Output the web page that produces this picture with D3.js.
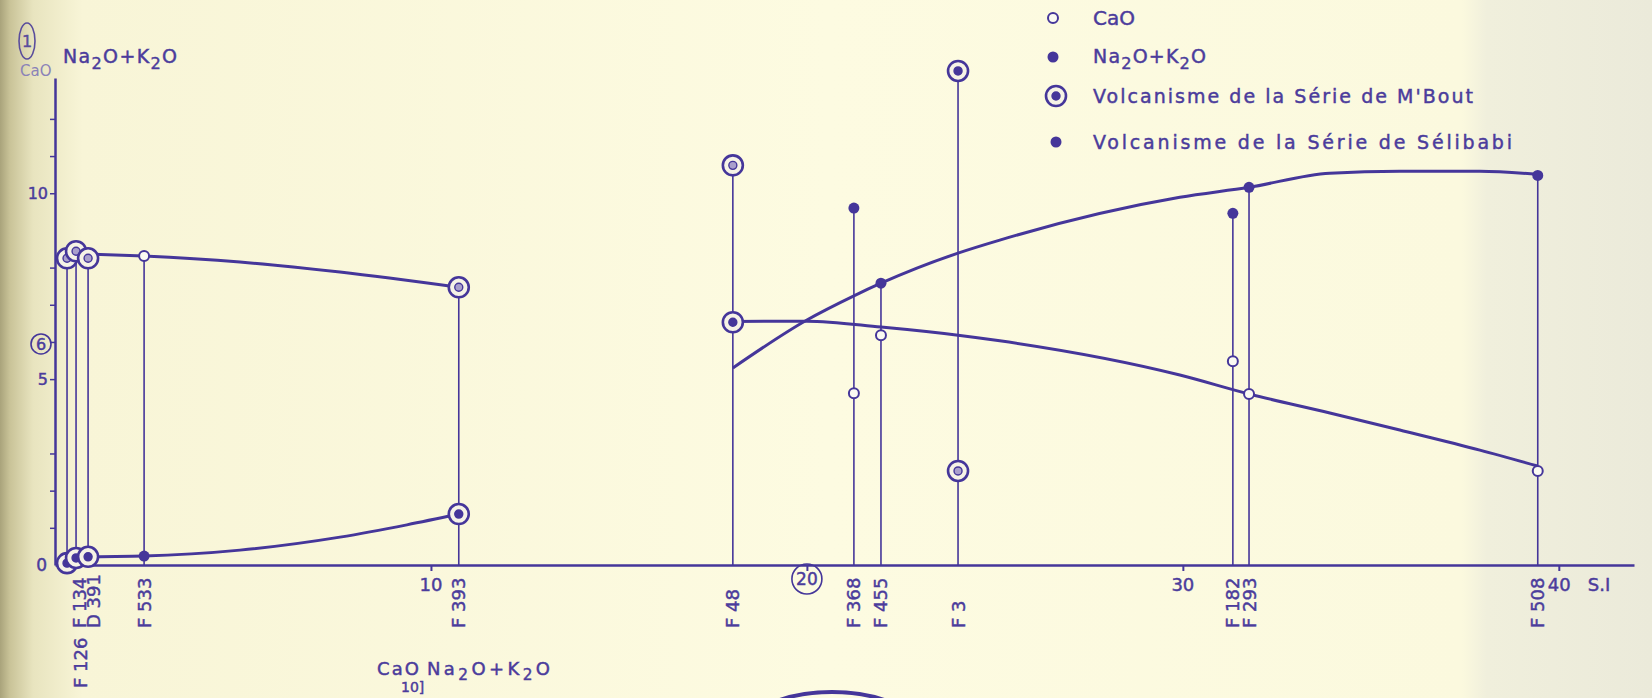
<!DOCTYPE html>
<html>
<head>
<meta charset="utf-8">
<script src="https://cdn.jsdelivr.net/npm/d3@7"></script>
<style>
  body { margin: 0; background: #fbf9dc; }
  svg { display: block; }
  text { font-family: "DejaVu Sans", sans-serif; fill: #4b3c9c; stroke: #4b3c9c; stroke-width: 0.45px; }
  .axis path, .axis line { stroke: #45369a; }
</style>
</head>
<body>
<script>
// chart parameters
var svgWidth = 1652;
var svgHeight = 698;
var margin = {top: 78, right: 18, bottom: 133, left: 55};
var width = svgWidth - margin.left - margin.right;
var height = svgHeight - margin.top - margin.bottom;
var ink = "#45369a";

// data
var samples = ["F134", "F126", "D391", "F533", "F393", "F48", "F368", "F455", "F3", "F182", "F293", "F508"];
var siIndex = [0.32, 0.56, 0.88, 2.37, 10.74, 18.03, 21.25, 21.97, 24.02, 31.33, 31.76, 39.44];
var caoValues = [8.25, 8.44, 8.25, 8.31, 7.47, 10.75, 4.62, 6.18, 2.53, 5.48, 4.60, 2.53];
var alkValues = [0.05, 0.19, 0.22, 0.24, 1.37, 6.53, 9.60, 7.58, 13.29, 9.46, 10.16, 10.48];
var series = ["M'Bout", "M'Bout", "M'Bout", "Sélibabi", "M'Bout", "M'Bout", "Sélibabi", "Sélibabi", "M'Bout", "Sélibabi", "Sélibabi", "Sélibabi"];

// trend curves drawn by hand on the original ([S.I, %])
var caoLeftCurve = [[1.06, 8.36], [2.37, 8.31], [4.92, 8.15], [7.58, 7.88], [10.74, 7.47]];
var alkLeftCurve = [[0.32, 0.05], [0.88, 0.22], [2.37, 0.24], [4.92, 0.40], [7.58, 0.75], [9.36, 1.08], [10.74, 1.37]];
var caoRightCurve = [[18.03, 6.55], [20.0, 6.56], [21.97, 6.40], [24.02, 6.18], [25.13, 6.03], [29.92, 5.11], [31.76, 4.60], [33.91, 4.09], [35.77, 3.63], [37.9, 3.09], [39.44, 2.66]];
var alkRightCurve = [[18.03, 5.30], [20.0, 6.59], [21.25, 7.24], [21.97, 7.58], [24.02, 8.39], [25.13, 8.74], [29.92, 9.89], [31.76, 10.16], [33.91, 10.54], [35.77, 10.59], [37.9, 10.59], [39.44, 10.51]];

var xTicks = [10, 20, 30, 40];
var yTicks = [1, 2, 3, 5, 6, 7, 8, 10, 11, 12];
var yLabels = [5, 10];

var legendItems = ["CaO", "Na2O+K2O", "Volcanisme de la Série de M'Bout", "Volcanisme de la Série de Sélibabi"];

// label nudges for the crowded left cluster
var labelNudge = {F134: [12, 0], F126: [4, 60], D391: [5, 0]};

var svg = d3.select("body").append("svg")
  .attr("width", svgWidth)
  .attr("height", svgHeight);

// scanned paper tone
var grad = svg.append("defs").append("linearGradient")
  .attr("id", "paper").attr("x1", 0).attr("x2", 1).attr("y1", 0).attr("y2", 0);
[[0, "#a9a37b"], [0.006, "#c9c398"], [0.02, "#e8e4bf"], [0.05, "#f8f5d7"], [0.5, "#fdfbe1"],
 [0.885, "#fbf9de"], [0.9, "#f0efdc"], [1, "#ebeada"]].forEach(function(s) {
  grad.append("stop").attr("offset", s[0]).attr("stop-color", s[1]);
});
svg.append("rect").attr("width", svgWidth).attr("height", svgHeight).attr("fill", "url(#paper)");

var chartGroup = svg.append("g")
  .attr("transform", `translate(${margin.left}, ${margin.top})`);

var xScale = d3.scaleLinear().domain([0, 42]).range([0, width]);
var yScale = d3.scaleLinear().domain([0, 13.1]).range([height, 0]);

// axes
var bottomAxis = d3.axisBottom(xScale).tickValues(xTicks).tickSize(6).tickSizeOuter(0).tickFormat("");
var leftAxis = d3.axisLeft(yScale).tickValues(yTicks).tickSize(5).tickSizeOuter(0).tickFormat("");

chartGroup.append("g")
  .attr("class", "axis")
  .attr("transform", `translate(0, ${height})`)
  .call(bottomAxis)
  .call(g => g.select(".domain").attr("stroke-width", 2.5))
  .call(g => g.selectAll(".tick line").attr("stroke-width", 2));

chartGroup.append("g")
  .attr("class", "axis")
  .call(leftAxis)
  .call(g => g.select(".domain").attr("stroke-width", 2.5))
  .call(g => g.selectAll(".tick line").attr("stroke-width", 1.5));

// y labels
yLabels.forEach(function(v) {
  chartGroup.append("text")
    .attr("x", -7).attr("y", yScale(v)).attr("dy", "0.35em")
    .attr("text-anchor", "end").attr("font-size", 16)
    .text(v);
});
chartGroup.append("text")
  .attr("x", -8).attr("y", yScale(0)).attr("dy", "0.35em")
  .attr("text-anchor", "end").attr("font-size", 17).text("0");
chartGroup.append("circle")
  .attr("cx", -14).attr("cy", yScale(6) + 2).attr("r", 10)
  .attr("fill", "none").attr("stroke", ink).attr("stroke-width", 1.6);
chartGroup.append("text")
  .attr("x", -14).attr("y", yScale(6) + 2).attr("dy", "0.36em")
  .attr("text-anchor", "middle").attr("font-size", 16).text("6");

// x labels
[10, 30].forEach(function(v) {
  chartGroup.append("text")
    .attr("x", xScale(v)).attr("y", height + 26)
    .attr("text-anchor", "middle").attr("font-size", 18).text(v);
});
chartGroup.append("text")
  .attr("x", xScale(40) - 11).attr("y", height + 26)
  .attr("font-size", 18).text("40");
chartGroup.append("text")
  .attr("x", xScale(40) + 29).attr("y", height + 26)
  .attr("font-size", 18).text("S.I");
chartGroup.append("circle")
  .attr("cx", xScale(20)).attr("cy", height + 14).attr("r", 15)
  .attr("fill", "none").attr("stroke", ink).attr("stroke-width", 1.6);
chartGroup.append("text")
  .attr("x", xScale(20)).attr("y", height + 14).attr("dy", "0.36em")
  .attr("text-anchor", "middle").attr("font-size", 17).text("20");

// header
svg.append("ellipse").attr("cx", 27).attr("cy", 41).attr("rx", 8).attr("ry", 18)
  .attr("fill", "none").attr("stroke", "#5a4d9c").attr("stroke-width", 1.6);
svg.append("text").attr("x", 27).attr("y", 47).attr("text-anchor", "middle")
  .attr("font-size", 16).style("fill", "#5a4d9c").style("stroke", "#5a4d9c").text("1");
svg.append("text").attr("x", 20).attr("y", 76).attr("font-size", 15)
  .style("fill", "#8a82b8").style("stroke", "none").text("CaO");

function chemLabel(sel, x, y, size, len) {
  var t = sel.append("text").attr("x", x).attr("y", y).attr("font-size", size);
  if (len) t.attr("textLength", len).attr("lengthAdjust", "spacing");
  t.append("tspan").text("Na");
  t.append("tspan").attr("dy", size * 0.3).attr("font-size", size * 0.85).text("2");
  t.append("tspan").attr("dy", -size * 0.3).text("O+K");
  t.append("tspan").attr("dy", size * 0.3).attr("font-size", size * 0.85).text("2");
  t.append("tspan").attr("dy", -size * 0.3).text("O");
  return t;
}
chemLabel(svg, 63, 63, 19, 114);

// curves
var line = d3.line()
  .x(d => xScale(d[0]))
  .y(d => yScale(d[1]))
  .curve(d3.curveMonotoneX);

[caoLeftCurve, alkLeftCurve, caoRightCurve, alkRightCurve].forEach(function(c) {
  chartGroup.append("path")
    .attr("d", line(c))
    .attr("fill", "none").attr("stroke", ink).attr("stroke-width", 3);
});

// drop lines
var rows = samples.map(function(s, i) {
  return {name: s, si: siIndex[i], cao: caoValues[i], alk: alkValues[i], series: series[i]};
});

chartGroup.selectAll(".drop")
  .data(rows).enter().append("line")
  .attr("class", "drop")
  .attr("x1", d => xScale(d.si)).attr("x2", d => xScale(d.si))
  .attr("y1", yScale(0)).attr("y2", d => yScale(Math.max(d.cao, d.alk)))
  .attr("stroke", ink).attr("stroke-width", 1.6);

// markers
function drawMarker(g, cx, cy, kind, filled) {
  if (kind === "M'Bout") {
    g.append("circle").attr("cx", cx).attr("cy", cy).attr("r", 10)
      .attr("fill", "#f6f3e6").attr("stroke", ink).attr("stroke-width", 2.6);
    g.append("circle").attr("cx", cx).attr("cy", cy).attr("r", 4)
      .attr("fill", filled ? ink : "#a99fcc").attr("stroke", ink).attr("stroke-width", 1.4);
  } else if (filled) {
    g.append("circle").attr("cx", cx).attr("cy", cy).attr("r", 5.5).attr("fill", ink);
  } else {
    g.append("circle").attr("cx", cx).attr("cy", cy).attr("r", 5)
      .attr("fill", "#fbfaf2").attr("stroke", ink).attr("stroke-width", 2);
  }
}

var markerGroup = chartGroup.append("g");
rows.forEach(function(d) {
  drawMarker(markerGroup, xScale(d.si), yScale(d.cao), d.series, false);
  drawMarker(markerGroup, xScale(d.si), yScale(d.alk), d.series, true);
});

// sample labels (rotated)
rows.forEach(function(d) {
  var nudge = labelNudge[d.name] || [0, 0];
  var lx = xScale(d.si) + nudge[0];
  var ly = height + 63 + nudge[1];
  chartGroup.append("text")
    .attr("transform", `translate(${lx}, ${ly}) rotate(-90)`)
    .attr("dy", "0.36em")
    .attr("font-size", 18)
    .text(d.name.replace(/^([A-Z])/, "$1 "));
});

// legend
var legend = svg.append("g");
var legendY = [18, 57, 96, 142];
var legendLen = [null, 113, 380, 419];
legendItems.forEach(function(item, i) {
  var cx = i < 2 ? 1053 : 1056;
  if (i === 0) drawMarker(legend, cx, legendY[i], "Sélibabi", false);
  if (i === 1) drawMarker(legend, cx, legendY[i], "Sélibabi", true);
  if (i === 2) drawMarker(legend, cx, legendY[i], "M'Bout", true);
  if (i === 3) drawMarker(legend, cx, legendY[i], "Sélibabi", true);
  if (item === "Na2O+K2O") {
    chemLabel(legend, 1093, legendY[i] + 6, 19, legendLen[i]);
  } else {
    var t = legend.append("text").attr("x", 1093).attr("y", legendY[i] + 7)
      .attr("font-size", i === 0 ? 20 : 19)
      .text(item);
    if (legendLen[i]) t.attr("textLength", legendLen[i]).attr("lengthAdjust", "spacing");
  }
});

// start of the next figure, cut by the page edge
var next = svg.append("g");
next.append("text").attr("x", 377).attr("y", 675).attr("font-size", 18)
  .attr("textLength", 42).attr("lengthAdjust", "spacing").text("CaO");
chemLabel(next, 427, 675, 18, 123);
next.append("text").attr("x", 401).attr("y", 692).attr("font-size", 14).text("10]");
next.append("ellipse").attr("cx", 832).attr("cy", 745).attr("rx", 98).attr("ry", 53)
  .attr("fill", "none").attr("stroke", ink).attr("stroke-width", 4);
</script>
</body>
</html>
